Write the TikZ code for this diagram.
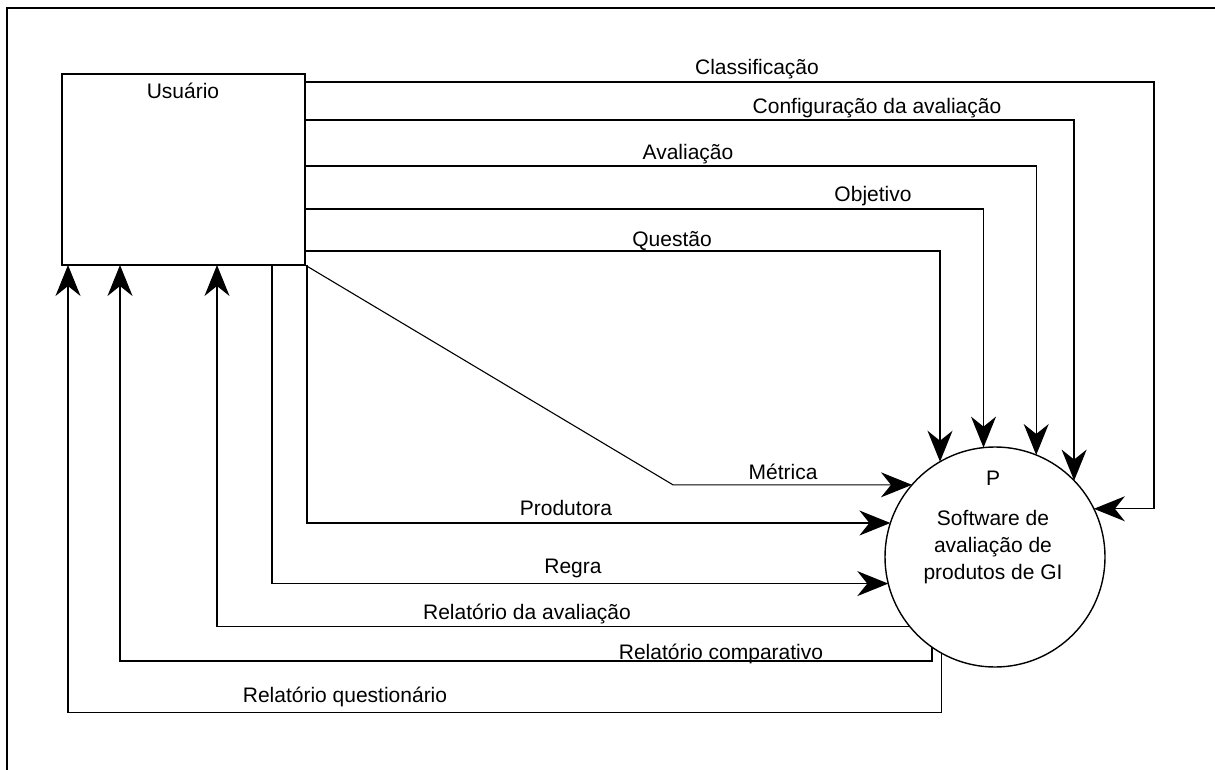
\documentclass[tikz,border=0pt]{standalone}
\usepackage{fontspec}
\setmainfont{Liberation Sans}
\usetikzlibrary{arrows.meta}
\begin{document}
\begin{tikzpicture}[x=1pt,y=-1pt,
  wire/.style={line width=1.4pt, line join=miter},
  flow/.style={wire, -{Stealth[length=31pt,width=25pt,inset=10pt]}},
  txt/.style={font=\fontsize{21}{26}\selectfont, inner sep=0pt, anchor=base},
  entity/.style={draw, line width=1.4pt, minimum width=243pt, minimum height=191pt,
                 inner sep=0pt, outer sep=0pt, anchor=north west},
  process/.style={draw, circle, line width=1.4pt, minimum size=220pt,
                  inner sep=0pt, outer sep=0pt},
]
\useasboundingbox (0,0) rectangle (1215,770);

% outer frame (left and top edges)
\draw[wire] (7,770) -- (7,8) -- (1215,8);

% external entity and process
\node[entity] (usr) at (62,74) {};
\node[txt] (usrname) at (183,99) {Usuário};
\node[process] (P) at (995,557) {};
\node[txt] (pid) at (993,485) {P};
\node[txt] (pname1) at (993,525) {Software de};
\node[txt] (pname2) at (993,552) {avaliação de};
\node[txt] (pname3) at (993,579) {produtos de GI};

% flows from the user to the process
\draw[flow] ([yshift=-8pt]usr.north east) -| ([xshift=60pt]P.26.4) -- (P.26.4);
\draw[flow] ([yshift=-46pt]usr.north east) -| (P.44.1);
\draw[flow] ([yshift=-92pt]usr.north east) -| (P.68.1);
\draw[flow] ([yshift=-135pt]usr.north east) -| (P.96.3);
\draw[flow] ([yshift=-177pt]usr.north east) -| (P.120);
\draw[flow, line width=1.1pt] (usr.south east) -- ([xshift=-239pt]P.139.8) -- (P.139.8);
\draw[flow] ([xshift=2pt]usr.south east) |- (P.162);
\draw[flow] ([xshift=-33pt]usr.south east) |- (P.194.2);

% flows from the process back to the user
\draw[flow] (P.219.5) -| ([xshift=155pt]usr.south west);
\draw[flow] (P.235.7) -- ++(0,14) -| ([xshift=58pt]usr.south west);
\draw[flow] (P.241.8) -- ++(0,59) -| ([xshift=6pt]usr.south west);

% flow labels
\node[txt] (lclass) at (757,75) {Classificação};
\node[txt] (lconf) at (877,114) {Configuração da avaliação};
\node[txt] (laval) at (688,160) {Avaliação};
\node[txt] (lobj) at (873,202) {Objetivo};
\node[txt] (lquest) at (672,246) {Questão};
\node[txt] (lmetr) at (783,479) {Métrica};
\node[txt] (lprod) at (566,515) {Produtora};
\node[txt] (lregra) at (573,573) {Regra};
\node[txt] (lrelav) at (527,619) {Relatório da avaliação};
\node[txt] (lrelcomp) at (721,659) {Relatório comparativo};
\node[txt] (lrelq) at (345,702) {Relatório questionário};
\end{tikzpicture}
\end{document}
